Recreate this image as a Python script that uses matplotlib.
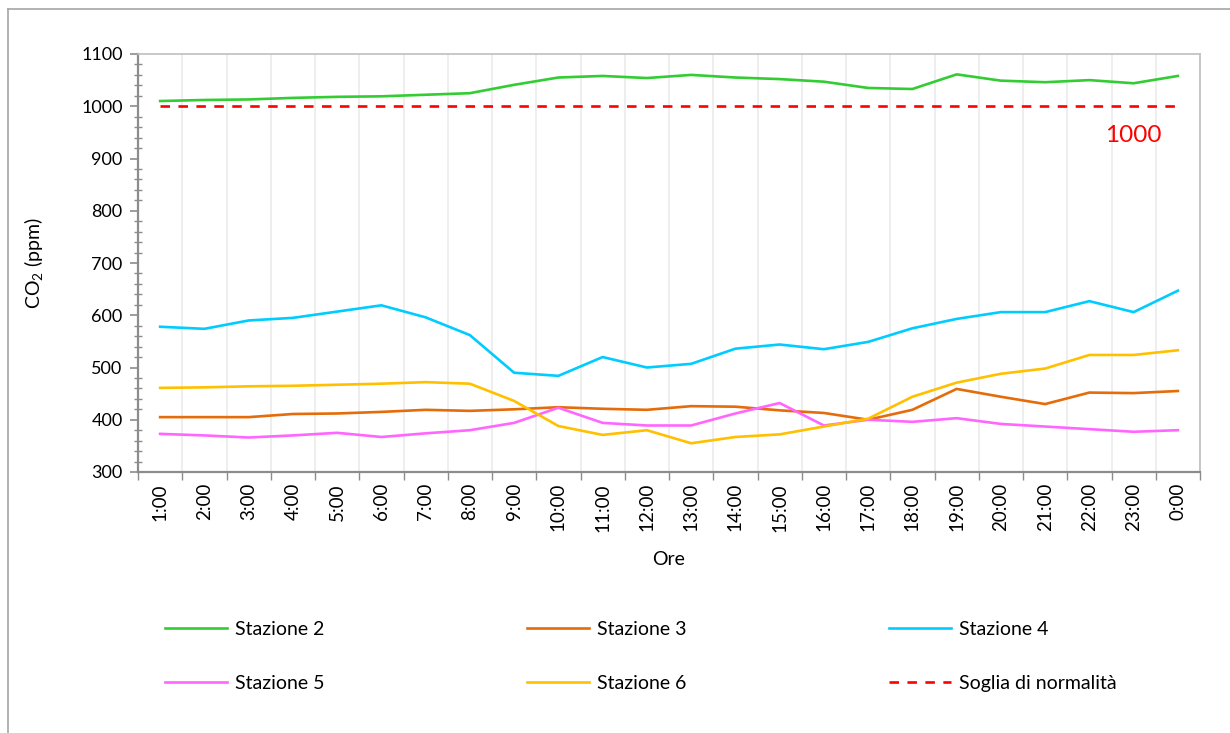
import numpy as np
import matplotlib
matplotlib.use("Agg")
import matplotlib.pyplot as plt
from matplotlib.lines import Line2D
from matplotlib.ticker import MultipleLocator, FixedLocator

plt.rcParams['font.family'] = ['Lato', 'DejaVu Sans']
plt.rcParams['mathtext.fontset'] = 'custom'
plt.rcParams['mathtext.rm'] = 'Lato'
plt.rcParams['mathtext.default'] = 'regular'

# Data
ore = ['1:00', '2:00', '3:00', '4:00', '5:00', '6:00', '7:00', '8:00', '9:00', '10:00',
       '11:00', '12:00', '13:00', '14:00', '15:00', '16:00', '17:00', '18:00', '19:00',
       '20:00', '21:00', '22:00', '23:00', '0:00']
stazione_2 = [1010, 1012, 1013, 1016, 1018, 1019, 1022, 1025, 1041, 1055, 1058, 1054,
              1060, 1055, 1052, 1047, 1035, 1033, 1061, 1049, 1046, 1050, 1044, 1058]
stazione_3 = [405, 405, 405, 411, 412, 415, 419, 417, 420, 424, 421, 419,
              426, 425, 418, 413, 400, 419, 459, 444, 430, 452, 451, 455]
stazione_4 = [578, 574, 590, 595, 607, 619, 596, 562, 490, 484, 520, 500,
              507, 536, 544, 535, 549, 575, 593, 606, 606, 627, 606, 647]
stazione_5 = [373, 370, 366, 370, 375, 367, 374, 380, 394, 423, 394, 389,
              389, 412, 432, 389, 400, 396, 403, 392, 387, 382, 377, 380]
stazione_6 = [461, 462, 464, 465, 467, 469, 472, 469, 436, 388, 371, 380,
              355, 367, 372, 387, 402, 444, 471, 488, 498, 524, 524, 533]
soglia = [1000] * len(ore)

x = np.arange(len(ore))

fig = plt.figure(figsize=(12.3, 7.33), dpi=100)
ax = fig.add_axes([138 / 1230, 1 - 472 / 733, (1200 - 138) / 1230, (472 - 54) / 733])

lw = 1.9
l2, = ax.plot(x, stazione_2, color='#33cc33', lw=lw, label='Stazione 2')
l3, = ax.plot(x, stazione_3, color='#e46c0a', lw=lw, label='Stazione 3')
l4, = ax.plot(x, stazione_4, color='#00ccff', lw=lw, label='Stazione 4')
l5, = ax.plot(x, stazione_5, color='#ff66ff', lw=lw, label='Stazione 5')
l6, = ax.plot(x, stazione_6, color='#ffc000', lw=lw, label='Stazione 6')
ls, = ax.plot(x, soglia, color='#ff0000', lw=lw, dashes=(3.6, 3.2),
              dash_capstyle='butt', label='Soglia di normalità')

ax.text(x[22], 944, '1000', color='#ff0000', fontsize=17.5, ha='center', va='center')

ax.set_xlim(-0.5, len(ore) - 0.5)
ax.set_ylim(300, 1100)
ax.yaxis.set_major_locator(MultipleLocator(100))
ax.yaxis.set_minor_locator(MultipleLocator(20))
ax.set_xticks(x)
ax.set_xticklabels(ore, rotation=90)
ax.xaxis.set_minor_locator(FixedLocator(np.arange(-0.5, len(ore), 1.0)))
ax.tick_params(axis='x', which='major', length=0, pad=8, labelsize=13.5)
ax.tick_params(axis='x', which='minor', length=6, direction='out', color='#8c8c8c', width=1)
ax.tick_params(axis='y', which='major', length=6, direction='out', color='#8c8c8c',
               width=1.2, labelsize=13, pad=5)
ax.tick_params(axis='y', which='minor', length=6, direction='inout', color='#8c8c8c', width=1)
ax.grid(which='minor', axis='x', color='#ebebeb', lw=1.2)
ax.set_axisbelow(True)

for s in ['left', 'bottom']:
    ax.spines[s].set_color('#8c8c8c')
    ax.spines[s].set_linewidth(1.6)
for s in ['top', 'right']:
    ax.spines[s].set_color('#bfbfbf')
    ax.spines[s].set_linewidth(1.2)

ax.set_xlabel('Ore', fontsize=14, labelpad=14)
ax.set_ylabel('CO$_2$ (ppm)', fontsize=14, labelpad=26)

# legend in three columns, two rows
cols = [([l2, l5], 165), ([l3, l6], 527), ([l4, ls], 889)]
for handles, xpos in cols:
    leg = fig.legend(handles=handles, loc='upper left',
                     bbox_to_anchor=(xpos / 1230, 1 - 621 / 733),
                     frameon=False, fontsize=14, handlelength=3.2, handletextpad=0.4,
                     labelspacing=1.9, borderpad=0, borderaxespad=0)

# chart frame
fig.add_artist(Line2D([8 / 1230, 8 / 1230], [0, 1 - 9 / 733], color='#a6a6a6', lw=1.2))
fig.add_artist(Line2D([8 / 1230, 1], [1 - 9 / 733, 1 - 9 / 733], color='#a6a6a6', lw=1.2))

fig.savefig('out.png', dpi=100)
